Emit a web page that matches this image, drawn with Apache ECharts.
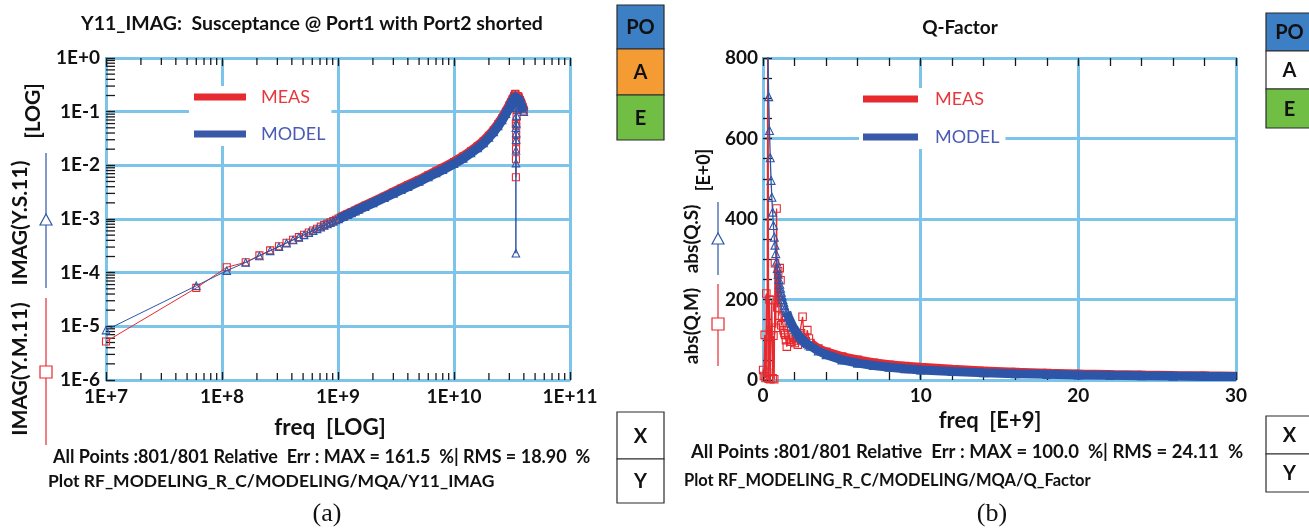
<!DOCTYPE html>
<html>
<head>
<meta charset="utf-8">
<title>Y11_IMAG / Q-Factor</title>
<script src="https://cdn.jsdelivr.net/npm/echarts@6/dist/echarts.min.js"></script>
<style>
  html, body { margin: 0; padding: 0; background: #fff; }
  #chart { width: 1309px; height: 531px; }
</style>
</head>
<body>
<div id="chart"></div>
<script>
// ---- data ----
// (a) Y11 imag vs freq, freq in GHz (plotted in Hz on log axis)
var yFreqGHz = [0.01,0.06,0.11,0.16,0.21,0.26,0.31,0.36,0.41,0.46,0.51,0.56,0.61,0.66,0.71,0.76,0.81,0.86,0.91,0.96,1.01,
  1.11,1.21,1.31,1.41,1.51,1.71,2.01,2.51,3.01,3.51,4.01,5.01,6.01,7.01,8.01,
  10.01,12.01,14.01,16.01,18.01,20.01,22.01,24.01,26.01,28.01,30.01,31.01,32.01,33.01,33.51,33.86,34.01,
  34.06,34.11,34.16,34.21,34.26,34.31,34.36,34.46,34.61,34.81,35.01,35.51,36.01,37.01,38.01,39.01,40.01];
var y11Meas = [5.2e-6,5.2e-5,1.26e-4,1.56e-4,2.1e-4,2.6e-4,3.1e-4,3.6e-4,4.1e-4,4.6e-4,5.1e-4,5.6e-4,6.1e-4,6.6e-4,7.2e-4,7.7e-4,8.2e-4,8.7e-4,9.2e-4,9.7e-4,1.02e-3,
  1.13e-3,1.23e-3,1.33e-3,1.44e-3,1.55e-3,1.76e-3,2.07e-3,2.6e-3,3.15e-3,3.7e-3,4.25e-3,5.3e-3,6.5e-3,7.7e-3,8.9e-3,
  1.15e-2,1.45e-2,1.83e-2,2.27e-2,2.8e-2,3.55e-2,4.5e-2,5.8e-2,7.5e-2,9.9e-2,0.13,0.15,0.17,0.195,0.21,0.215,0.2,
  0.13,0.06,6e-3,0.013,0.02,0.028,0.037,0.055,0.08,0.11,0.15,0.195,0.19,0.165,0.14,0.12,0.105];
var y11Model = [8.5e-6,5.7e-5,1.09e-4,1.55e-4,2.05e-4,2.55e-4,3.05e-4,3.55e-4,4.05e-4,4.55e-4,5.05e-4,5.55e-4,6.05e-4,6.55e-4,7.05e-4,7.55e-4,8.05e-4,8.55e-4,9.05e-4,9.55e-4,1.0e-3,
  1.1e-3,1.2e-3,1.3e-3,1.4e-3,1.5e-3,1.7e-3,2.0e-3,2.5e-3,3.0e-3,3.5e-3,4.0e-3,5.0e-3,6.1e-3,7.2e-3,8.3e-3,
  1.07e-2,1.35e-2,1.7e-2,2.1e-2,2.6e-2,3.3e-2,4.2e-2,5.4e-2,7.0e-2,9.2e-2,0.12,0.14,0.16,0.18,0.195,0.2,0.19,
  0.12,0.05,2.3e-4,0.011,0.019,0.03,0.04,0.06,0.085,0.12,0.15,0.185,0.18,0.155,0.13,0.115,0.1];

// (b) Q-factor vs freq [E+9]
var qFreqGHz = [0.01,0.06,0.11,0.16,0.21,0.26,0.31,0.36,0.41,0.46,0.51,0.56,0.61,0.66,0.71,0.76,0.81,0.86,0.91,0.96,1.01,
  1.06,1.11,1.16,1.21,1.26,1.31,1.36,1.41,1.46,1.51,
  1.61,1.71,1.81,1.91,2.01,2.11,2.21,2.31,2.41,2.51,2.61,2.71,2.81,2.91,3.01,
  3.51,4.01,5.01,6.01,7.01,8.01,9.01,10.01,12.01,14.01,16.01,18.01,20.01,22.01,24.01,26.01,28.01,30.01];
var qMeas = [25,10,112,5,215,18,1100,3,200,2,124,198,4,110,2,290,130,426,180,270,160,
  278,248,136,157,141,124,116,112,99,83,
  112,100,95,105,92,98,88,112,116,157,103,96,124,103,92,
  78,70,58,50,43,38,34.5,31.5,26.5,22.5,19.5,17,15,13.5,12.3,11.2,10.3,9.6];
var qModel = [25000,4200,2300,1580,1200,970,815,704,620,552,496,454,417,384,355,335,314,293,277,263,250,
  238,228,218,209,200,193,186,179,173,168,
  157,148,140,132,126,120,114,109,105,101,97,93,90,87,84,
  72,63,50,42,36,31.5,28,25,21,18,15.8,14,12.6,11.5,10.5,9.7,9,8.4];

var RED = '#e62a2f', BLUE = '#2d56a8';
var GRIDC = '#7cc4ea', FRAME = '#3a5580', TICK = '#1a1a1a';
var FONT = 'Lato, "Open Sans", sans-serif';

function pairs(f, v, k) {
  return f.map(function (x, i) { return [x * k, v[i]]; });
}
// dense part of a trace, drawn as a thick stroke; gap breaks the band
function band(pts, from, gapFrom, gapTo) {
  return pts.filter(function (p) { return p[0] >= from; }).map(function (p) {
    return (p[0] > gapFrom && p[0] < gapTo) ? [p[0], '-'] : p;
  });
}
function logLabel(v) {
  var e = Math.round(Math.log10(v));
  return '1E' + (e >= 0 ? '+' : '') + e;
}
function minorLog(lo, hi) {
  var out = [];
  for (var e = lo; e < hi; e++) for (var k = 2; k <= 9; k++) out.push(k * Math.pow(10, e));
  return out;
}

var measA = pairs(yFreqGHz, y11Meas, 1e9), modelA = pairs(yFreqGHz, y11Model, 1e9);
var measB = pairs(qFreqGHz, qMeas, 1), modelB = pairs(qFreqGHz, qModel, 1);

var myChart = echarts.init(document.getElementById('chart'));

function tickStyle() { return { stroke: TICK, lineWidth: 1.3 }; }
var tickLine = { color: TICK, width: 1.3 };
var labelStyle = { color: '#111', fontSize: 19, fontWeight: 'bold', fontFamily: FONT };

var option = {
  animation: false,
  backgroundColor: '#fff',
  grid: [
    { left: 106, top: 58, width: 464, height: 322, show: true, borderColor: FRAME, borderWidth: 1.5, backgroundColor: 'transparent' },
    { left: 763, top: 58, width: 473, height: 322, show: true, borderColor: FRAME, borderWidth: 1.5, backgroundColor: 'transparent' }
  ],
  xAxis: [
    { gridIndex: 0, type: 'log', logBase: 10, min: 1e7, max: 1e11, splitNumber: 4, position: 'bottom',
      axisLine: { show: false }, axisTick: { show: true, inside: true, length: 8, lineStyle: tickLine },
      axisLabel: Object.assign({ formatter: logLabel, margin: 7, showMinLabel: true, showMaxLabel: true }, labelStyle),
      splitLine: { show: true, lineStyle: { color: GRIDC, width: 3 } } },
    { gridIndex: 0, type: 'log', logBase: 10, min: 1e7, max: 1e11, splitNumber: 4, position: 'top',
      axisLine: { show: false }, axisTick: { show: true, inside: true, length: 8, lineStyle: tickLine },
      axisLabel: { show: false }, splitLine: { show: false } },
    { gridIndex: 1, type: 'value', min: 0, max: 30, interval: 10, position: 'bottom',
      axisLine: { show: false }, axisTick: { show: true, inside: true, length: 8, lineStyle: tickLine },
      minorTick: { show: true, splitNumber: 5, length: 8, lineStyle: tickLine },
      axisLabel: Object.assign({ margin: 6 }, labelStyle),
      splitLine: { show: true, lineStyle: { color: GRIDC, width: 3 } } },
    { gridIndex: 1, type: 'value', min: 0, max: 30, interval: 10, position: 'top',
      axisLine: { show: false }, axisTick: { show: true, inside: true, length: 8, lineStyle: tickLine },
      minorTick: { show: true, splitNumber: 5, length: 8, lineStyle: tickLine },
      axisLabel: { show: false }, splitLine: { show: false } }
  ],
  yAxis: [
    { gridIndex: 0, type: 'log', logBase: 10, min: 1e-6, max: 1, splitNumber: 6,
      axisLine: { show: false }, axisTick: { show: true, inside: true, length: 9, lineStyle: tickLine },
      axisLabel: Object.assign({ formatter: logLabel, margin: 6, showMinLabel: true, showMaxLabel: true }, labelStyle),
      splitLine: { show: true, lineStyle: { color: GRIDC, width: 3 } } },
    { gridIndex: 1, type: 'value', min: 0, max: 800, interval: 200,
      axisLine: { show: false }, axisTick: { show: true, inside: true, length: 9, lineStyle: tickLine },
      minorTick: { show: true, splitNumber: 4, length: 9, lineStyle: tickLine },
      axisLabel: Object.assign({ margin: 5 }, labelStyle),
      splitLine: { show: true, lineStyle: { color: GRIDC, width: 3 } } }
  ],
  legend: [
    { left: 189, top: 86, orient: 'vertical', selectedMode: false, backgroundColor: '#fff',
      padding: [2, 6, 3, 5], itemGap: 19, itemWidth: 52, itemHeight: 7, icon: 'rect',
      textStyle: { fontSize: 18, fontFamily: FONT, lineHeight: 18, padding: [0, 0, 0, 10] },
      data: [
        { name: 'MEAS', itemStyle: { color: RED, borderWidth: 0 }, textStyle: { color: '#e8383d' } },
        { name: 'MODEL', itemStyle: { color: '#3a58aa', borderWidth: 0 }, textStyle: { color: '#4a5cb3' } }
      ] },
    { left: 859, top: 88, orient: 'vertical', selectedMode: false, backgroundColor: '#fff',
      padding: [2, 6, 3, 4], itemGap: 20, itemWidth: 55, itemHeight: 7, icon: 'rect',
      textStyle: { fontSize: 18, fontFamily: FONT, lineHeight: 18, padding: [0, 0, 0, 12] },
      data: [
        { name: 'MEAS', itemStyle: { color: RED, borderWidth: 0 }, textStyle: { color: '#e8383d' } },
        { name: 'MODEL', itemStyle: { color: '#3a58aa', borderWidth: 0 }, textStyle: { color: '#4a5cb3' } }
      ] }
  ],
  series: [
    // log minor ticks of plot (a)
    { type: 'custom', silent: true, xAxisIndex: 0, yAxisIndex: 0, z: 1,
      data: minorLog(7, 11).map(function (v) { return [v, 1e-6]; }),
      renderItem: function (params, api) {
        var b = api.coord([api.value(0), 1e-6]), t = api.coord([api.value(0), 1]);
        return { type: 'group', children: [
          { type: 'line', shape: { x1: b[0], y1: b[1], x2: b[0], y2: b[1] - 7 }, style: tickStyle() },
          { type: 'line', shape: { x1: t[0], y1: t[1], x2: t[0], y2: t[1] + 7 }, style: tickStyle() }
        ] };
      } },
    { type: 'custom', silent: true, xAxisIndex: 0, yAxisIndex: 0, z: 1,
      data: minorLog(-6, 0).map(function (v) { return [1e7, v]; }),
      renderItem: function (params, api) {
        var l = api.coord([1e7, api.value(1)]);
        return { type: 'line', shape: { x1: l[0], y1: l[1], x2: l[0] + 9, y2: l[1] }, style: tickStyle() };
      } },

    // plot (a)
    { name: 'MEAS', type: 'line', xAxisIndex: 0, yAxisIndex: 0, z: 2, symbol: 'none', connectNulls: false,
      data: band(measA, 1.0e9, 34.05e9, 35.0e9), lineStyle: { color: RED, width: 10 }, itemStyle: { color: RED } },
    { name: 'MEAS', type: 'line', xAxisIndex: 0, yAxisIndex: 0, z: 3, symbol: 'rect', symbolSize: 7,
      data: measA, lineStyle: { color: RED, width: 1 }, itemStyle: { color: 'rgba(0,0,0,0)', borderColor: RED, borderWidth: 1.1 } },
    { name: 'MODEL', type: 'line', xAxisIndex: 0, yAxisIndex: 0, z: 4, symbol: 'none', connectNulls: false,
      data: band(modelA, 1.0e9, 34.05e9, 35.0e9), lineStyle: { color: BLUE, width: 9.5 }, itemStyle: { color: BLUE } },
    { name: 'MODEL', type: 'line', xAxisIndex: 0, yAxisIndex: 0, z: 5, symbol: 'triangle', symbolSize: 7.5,
      data: modelA, lineStyle: { color: BLUE, width: 1 }, itemStyle: { color: 'rgba(0,0,0,0)', borderColor: BLUE, borderWidth: 1.1 } },

    // plot (b)
    { name: 'MEAS', type: 'line', xAxisIndex: 2, yAxisIndex: 1, z: 2, symbol: 'none',
      data: band(measB, 3.0, 99, 99), lineStyle: { color: RED, width: 9 }, itemStyle: { color: RED } },
    { name: 'MEAS', type: 'line', xAxisIndex: 2, yAxisIndex: 1, z: 3, symbol: 'rect', symbolSize: 7.5,
      data: measB, lineStyle: { color: RED, width: 1.3 }, itemStyle: { color: 'rgba(0,0,0,0)', borderColor: RED, borderWidth: 1.1 } },
    { name: 'MODEL', type: 'line', xAxisIndex: 2, yAxisIndex: 1, z: 4, symbol: 'none',
      data: band(modelB, 1.5, 99, 99), lineStyle: { color: BLUE, width: 9 }, itemStyle: { color: BLUE } },
    { name: 'MODEL', type: 'line', xAxisIndex: 2, yAxisIndex: 1, z: 5, symbol: 'triangle', symbolSize: 8,
      data: modelB, lineStyle: { color: BLUE, width: 1.3 }, itemStyle: { color: 'rgba(0,0,0,0)', borderColor: BLUE, borderWidth: 1.1 } }
  ],
  graphic: []
};

// ---- texts and side decorations ----
var g = option.graphic;
function txt(x, y, s, size, opt) {
  opt = opt || {};
  g.push({ type: 'text', x: x, y: y, rotation: opt.rot || 0, silent: true,
    style: { text: s, fill: opt.color || '#111', font: (opt.weight || 'bold') + ' ' + size + 'px ' + (opt.family || FONT),
      align: opt.align || 'center', verticalAlign: 'middle' } });
}
function box(x, y, w, h, fill, label) {
  g.push({ type: 'rect', shape: { x: x, y: y, width: w, height: h }, silent: true,
    style: { fill: fill, stroke: '#2b2b2b', lineWidth: 1.2 } });
  txt(x + w / 2, y + h / 2 + 1, label, 20);
}
function keyMark(x, y1, y2, ym, color, shape) {
  g.push({ type: 'line', shape: { x1: x, y1: y1, x2: x, y2: y2 }, silent: true, style: { stroke: color, lineWidth: 1.2 } });
  if (shape === 'tri') {
    g.push({ type: 'polygon', shape: { points: [[x, ym - 6], [x - 6, ym + 5], [x + 6, ym + 5]] }, silent: true,
      style: { fill: '#fff', stroke: color, lineWidth: 1.2 } });
  } else {
    g.push({ type: 'rect', shape: { x: x - 6, y: ym - 6, width: 12, height: 12 }, silent: true,
      style: { fill: '#fff', stroke: color, lineWidth: 1.2 } });
  }
}
var UP = Math.PI / 2;
var SERIF = '"Liberation Serif", "DejaVu Serif", serif';

// plot (a)
txt(312, 24, 'Y11_IMAG:  Susceptance @ Port1 with Port2 shorted', 19.5);
txt(330, 428, 'freq  [LOG]', 22.5);
txt(20, 369, 'IMAG(Y.M.11)', 21, { rot: UP });
txt(20, 223, 'IMAG(Y.S.11)', 21, { rot: UP });
txt(33, 111, '[LOG]', 21, { rot: UP });
keyMark(46, 153, 288, 220, BLUE, 'tri');
keyMark(46, 298, 445, 372, RED, 'rect');
txt(53, 457, 'All Points :801/801 Relative  Err : MAX = 161.5  %| RMS = 18.90  %', 18, { align: 'left' });
txt(48, 481, 'Plot RF_MODELING_R_C/MODELING/MQA/Y11_IMAG', 17.5, { align: 'left' });
txt(327, 514, '(a)', 26, { weight: 'normal', family: SERIF });
box(617, 5, 47, 44, '#3d7fc4', 'PO');
box(617, 49, 47, 46, '#f59b34', 'A');
box(617, 95, 47, 45, '#70bf44', 'E');
box(617, 412, 47, 47, '#fff', 'X');
box(617, 459, 47, 44, '#fff', 'Y');

// plot (b)
txt(960, 28, 'Q-Factor', 19);
txt(990, 421, 'freq  [E+9]', 22);
txt(692, 326, 'abs(Q.M)', 19, { rot: UP });
txt(692, 239, 'abs(Q.S)', 19, { rot: UP });
txt(704, 170, '[E+0]', 18, { rot: UP });
keyMark(718, 202, 275, 239, BLUE, 'tri');
keyMark(718, 284, 366, 324, RED, 'rect');
txt(691, 452, 'All Points :801/801 Relative  Err : MAX = 100.0  %| RMS = 24.11  %', 18.5, { align: 'left' });
txt(684, 481, 'Plot RF_MODELING_R_C/MODELING/MQA/Q_Factor', 16.5, { align: 'left' });
txt(992, 514, '(b)', 26, { weight: 'normal', family: SERIF });
box(1266, 13, 47, 38, '#3d7fc4', 'PO');
box(1266, 51, 47, 38, '#fff', 'A');
box(1266, 89, 47, 39, '#70bf44', 'E');
box(1266, 416, 47, 38, '#fff', 'X');
box(1266, 454, 47, 38, '#fff', 'Y');

myChart.setOption(option);
</script>
</body>
</html>
